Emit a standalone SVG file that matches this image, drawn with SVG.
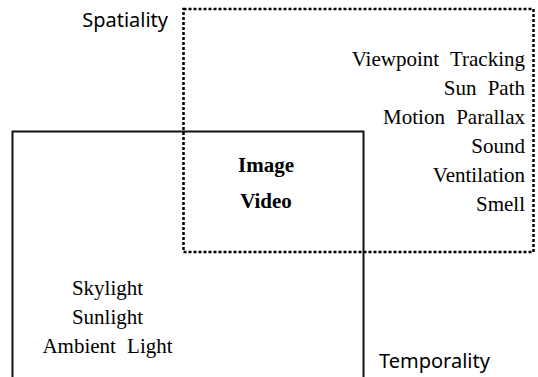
<svg xmlns="http://www.w3.org/2000/svg" width="538" height="377" viewBox="0 0 538 377">
  <style>
    .dotted { fill: none; stroke: #000; stroke-width: 2.5; stroke-dasharray: 3 2; }
    .solid { fill: none; stroke: #111; stroke-width: 2; }
    .label { font-family: "Noto Sans", "Open Sans", sans-serif; font-size: 20px; fill: #000; }
    .item { font-family: "Liberation Serif", "Times New Roman", serif; font-size: 21px; word-spacing: 6px; fill: #000; }
    .key { font-family: "Liberation Serif", "Times New Roman", serif; font-size: 21px; font-weight: bold; fill: #000; }
  </style>
  <rect width="538" height="377" fill="#fff"/>

  <!-- Spatiality region: dotted frame -->
  <g id="spatiality">
    <rect class="dotted" x="183.5" y="9" width="350" height="243"/>
    <text class="label" x="168" y="27" text-anchor="end">Spatiality</text>
    <g class="item" text-anchor="end">
      <text x="525" y="66">Viewpoint Tracking</text>
      <text x="525" y="95">Sun Path</text>
      <text x="525" y="124">Motion Parallax</text>
      <text x="525" y="153">Sound</text>
      <text x="525" y="182">Ventilation</text>
      <text x="525" y="211">Smell</text>
    </g>
  </g>

  <!-- Temporality region: solid frame, open at the bottom -->
  <g id="temporality">
    <path class="solid" d="M12.5,377 V131.5 H363.5 V377"/>
    <text class="label" x="379" y="368">Temporality</text>
    <g class="item" text-anchor="middle">
      <text x="107.5" y="295">Skylight</text>
      <text x="107.5" y="324">Sunlight</text>
      <text x="107.5" y="353">Ambient Light</text>
    </g>
  </g>

  <!-- Overlap of both regions -->
  <g id="overlap" class="key" text-anchor="middle">
    <text x="266" y="172">Image</text>
    <text x="266" y="208">Video</text>
  </g>
</svg>
